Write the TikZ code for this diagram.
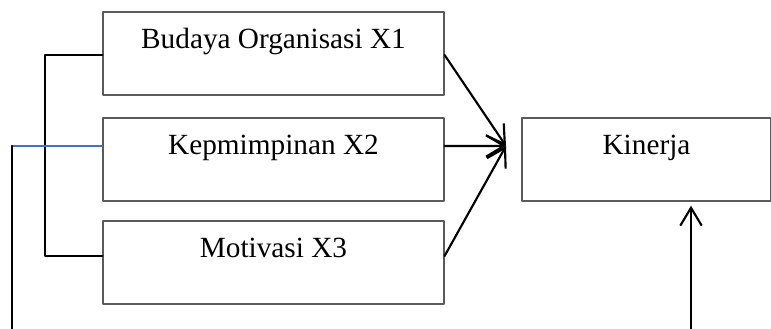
\documentclass[tikz,border=0pt]{standalone}
\usepackage{fontspec}
\setmainfont{Liberation Serif}
\usetikzlibrary{arrows.meta}
\definecolor{boxgray}{RGB}{90,90,90}
\definecolor{linkblue}{RGB}{68,114,196}

\begin{document}
\begin{tikzpicture}[x=0.42pt,y=-0.42pt,line width=0.9pt,line cap=round,line join=round,
  box/.style={draw=boxgray,line width=0.5pt,minimum width=143.2pt,minimum height=34.9pt,inner sep=0pt,
    label={[anchor=base,yshift=-15.5pt,font=\fontsize{12.3}{14}\selectfont]north:#1}},
  arr/.style={-{Straight Barb[length=7.5pt,width=9pt]}}]
\useasboundingbox (0,0) rectangle (771,329);
\node[box=Budaya Organisasi X1] (x1) at (273.5,53.5) {};
\node[box=Kepmimpinan X2] (x2) at (273.5,159.5) {};
\node[box=Motivasi X3] (x3) at (273.5,262.5) {};
\node[box=Kinerja,minimum width=104.6pt] (kin) at (646.5,159.5) {};
\coordinate (hub) at (506,146);
\coordinate (lft) at (12,146);
\coordinate (lftend) at (12,329);
\coordinate (kinin) at (691,329);
% bracket X1--X3
\draw ([yshift=-0.63pt]x1.west) -- ++(-57,0) |- ([yshift=2.73pt]x3.west);
\draw[linkblue,line width=0.7pt] ([yshift=5.67pt]x2.west) -- (lft);
\draw (lft) -- (lftend);
% arrows to Kinerja
\draw[arr] ([yshift=-0.63pt]x1.east) -- (hub);
\draw[arr] ([yshift=5.67pt]x2.east) -- (hub);
\draw[arr] ([yshift=2.73pt]x3.east) -- (hub);
\draw[arr] (kinin) -- ([yshift=-1.7pt]kin.south -| kinin);
\end{tikzpicture}
\end{document}
